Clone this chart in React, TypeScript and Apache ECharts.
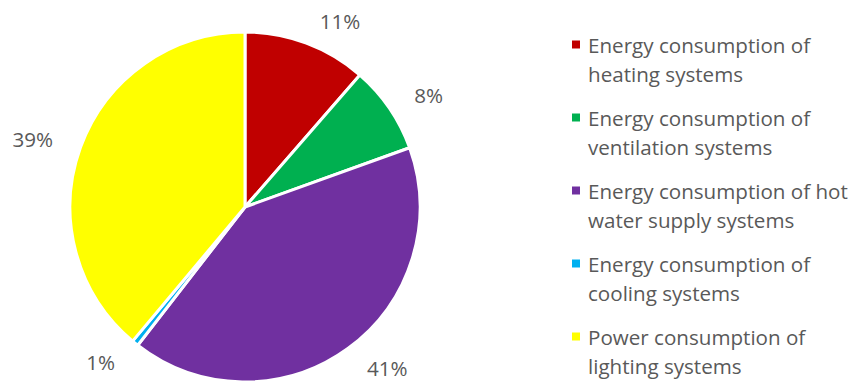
import React, { useEffect, useRef } from "react";
import * as echarts from "echarts";

const categories = [
  "Energy consumption of heating systems",
  "Energy consumption of ventilation systems",
  "Energy consumption of hot water supply systems",
  "Energy consumption of cooling systems",
  "Power consumption of lighting systems",
];
const legendLine1 = [
  "Energy consumption of",
  "Energy consumption of",
  "Energy consumption of hot",
  "Energy consumption of",
  "Power consumption of",
];
const legendLine2 = [
  "heating systems",
  "ventilation systems",
  "water supply systems",
  "cooling systems",
  "lighting systems",
];
const values = [11.4, 8.1, 41.0, 0.6, 38.9];
const colors = ["#C00000", "#00B050", "#7030A0", "#00B0F0", "#FFFF00"];

const FONT = "Open Sans";
const FONT_SIZE = 20.6;
const TEXT_COLOR = "#595959";

export default function App() {
  const ref = useRef<HTMLDivElement>(null);
  useEffect(() => {
    if (!ref.current) return;
    const chart = echarts.init(ref.current, null, { renderer: "svg" });
    const rich: Record<string, any> = {
      t: { fontFamily: FONT, fontSize: FONT_SIZE, color: TEXT_COLOR, lineHeight: 29 },
      g: { width: 8 },
      ind: { width: 16 },
    };
    colors.forEach((c, i) => {
      rich["sq" + i] = { width: 8, height: 8, backgroundColor: c };
    });
    chart.setOption({
      animation: false,
      color: colors,
      legend: {
        orient: "vertical",
        left: 567,
        top: 30,
        height: 355,
        padding: 0,
        icon: "none",
        itemWidth: 0,
        itemHeight: 0,
        itemGap: 15,
        selectedMode: false,
        data: categories,
        formatter: (name: string) => {
          const i = categories.indexOf(name);
          return `{sq${i}|}{g|}{t|${legendLine1[i]}}\n{ind|}{t|${legendLine2[i]}}`;
        },
        textStyle: { rich, fontFamily: FONT, fontSize: FONT_SIZE, color: TEXT_COLOR, lineHeight: 29 },
      },
      series: [
        {
          type: "pie",
          center: [245, 207],
          radius: [0, 175],
          startAngle: 90,
          clockwise: true,
          avoidLabelOverlap: false,
          itemStyle: { borderColor: "#ffffff", borderWidth: 3 },
          label: {
            show: true,
            position: "outside",
            formatter: (p: any) => Math.round(p.value) + "%",
            fontFamily: FONT,
            fontSize: FONT_SIZE,
            color: TEXT_COLOR,
          },
          labelLine: { show: false, length: 24, length2: 0 },
          emphasis: { disabled: true },
          data: categories.map((name, i) => ({ name, value: values[i] })),
        },
      ],
    });
    return () => chart.dispose();
  }, []);
  return (
    <div
      ref={ref}
      style={{ position: "fixed", left: 0, top: 0, width: 868, height: 385, background: "#fff" }}
    />
  );
}
